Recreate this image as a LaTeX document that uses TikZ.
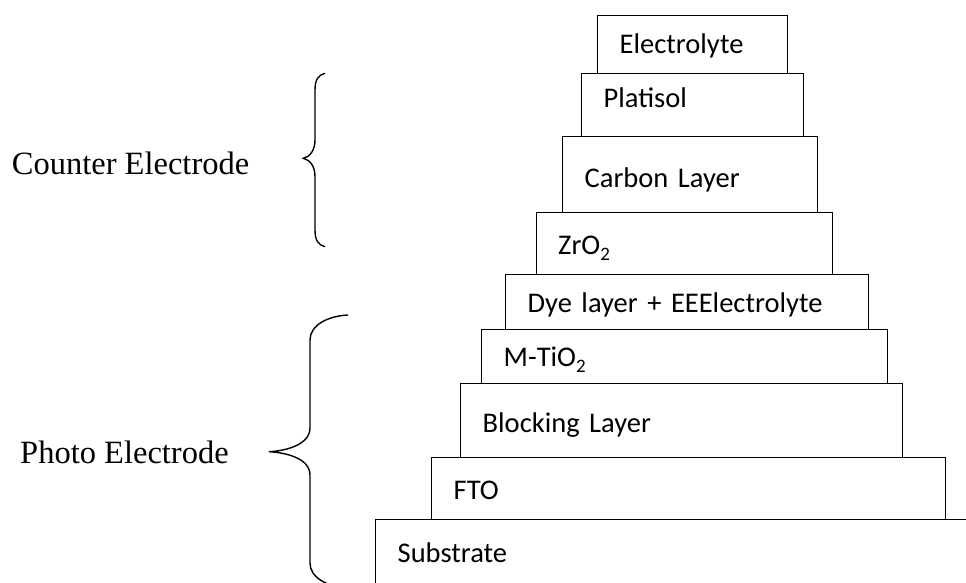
\documentclass[tikz,border=0pt]{standalone}
\usepackage{fontspec}
\usepackage{tikz}
\newfontfamily\calib{Carlito}
\newfontfamily\tnr{Liberation Serif}
\newcommand{\layersub}[1]{\raisebox{-6pt}{\fontsize{19}{20}\selectfont #1}}

\begin{document}
\begin{tikzpicture}[
    x=1pt, y=-1pt,
    layer/.style 2 args={draw, line width=1.4pt, anchor=north west, inner xsep=22pt, inner ysep=0pt,
        align=left, minimum width=#1, minimum height=#2, text width=#1-44pt,
        text height=30pt, text depth=8.6pt, font=\calib\fontsize{28.5}{34}\selectfont},
    lift/.style={text height=30pt-#1, text depth=8.6pt+#1},
    side/.style={anchor=base west, inner sep=0pt, font=\tnr\fontsize{32.5}{38}\selectfont},
    brace/.style={draw, line width=1.4pt},
]
    \clip (0,0) rectangle (966,583);

    % layer stack, top to bottom
    \node[layer={190pt}{58pt}, lift=1.4pt] (electrolyte) at (597,15) {Electrolyte};
    \node[layer={222pt}{63pt}, lift=8.4pt] (platisol) at (581,73) {Platisol};
    \node[layer={255pt}{76pt}, lift=-2.5pt] (carbon) at (562,136) {Carbon Layer};
    \node[layer={296pt}{62pt}] (zro) at (535.5,212) {ZrO\layersub{2}};
    \node[layer={363pt}{55pt}] (dye) at (505,274) {Dye layer + EEElectrolyte};
    \node[layer={406pt}{54pt}, lift=1pt] (mtio) at (481,329) {M-TiO\layersub{2}};
    \node[layer={442pt}{74pt}, lift=-1pt] (blocking) at (460,383) {Blocking Layer};
    \node[layer={514pt}{62pt}] (fto) at (431,457) {FTO};
    \node[layer={640pt}{68pt}, lift=1.5pt] (substrate) at (375,519) {Substrate};

    % side labels
    \node[side] (counter) at (11.7,175) {Counter Electrode};
    \node[side] (photo) at (20,463.3) {Photo Electrode};

    % braces
    \path[brace] (325,73.3) .. controls (318,75) and (315,80) .. (315,90) -- (315,140)
        .. controls (315,150) and (310,157) .. (303.3,158.3)
        .. controls (310,160) and (315,166) .. (315,176.7) -- (315,230)
        .. controls (315,240) and (318,245) .. (325,246.7);
    \path[brace] (348,315) .. controls (328,316) and (310,325) .. (310,340) -- (310,428)
        .. controls (310,445) and (285,451) .. (269,451.7)
        .. controls (285,452.5) and (310,458) .. (310,475) -- (310,563)
        .. controls (310,578) and (328,587) .. (348,588);
\end{tikzpicture}
\end{document}
